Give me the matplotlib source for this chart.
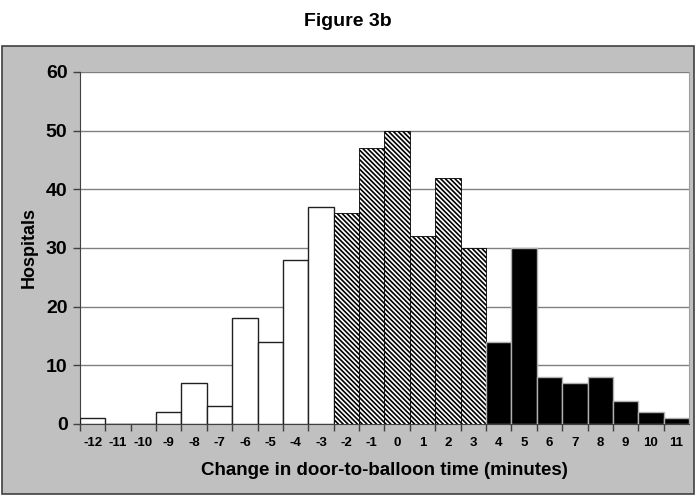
import matplotlib
matplotlib.use("Agg")
import matplotlib.pyplot as plt
from matplotlib.patches import Rectangle

minutes = list(range(-12, 12))
hospitals = [1, 0, 0, 2, 7, 3, 18, 14, 28, 37,
             36, 47, 50, 32, 42, 30,
             14, 30, 8, 7, 8, 4, 2, 1]

plt.rcParams["font.family"] = ["Liberation Sans Narrow", "Liberation Sans", "DejaVu Sans"]
plt.rcParams["font.weight"] = "bold"
plt.rcParams["hatch.linewidth"] = 1.2

fig = plt.figure(figsize=(6.97, 4.96), dpi=100)
fig.patch.set_facecolor("white")

# gray panel behind the chart
fig.patches.append(Rectangle((2 / 697, 2 / 496), 692 / 697, 448 / 496,
                             transform=fig.transFigure, facecolor="#c0c0c0",
                             edgecolor="#404040", linewidth=1.2, zorder=-10))

fig.text(348 / 697, 1 - 21 / 496, "Figure 3b", ha="center", va="center",
         fontsize=14, fontweight="bold")

ax = fig.add_axes([80 / 697, 72 / 496, 609 / 697, 352 / 496])
ax.set_facecolor("white")

for m, h in zip(minutes, hospitals):
    if m <= -3:
        ax.bar(m, h, width=1.0, color="white", edgecolor="#202020", linewidth=1, zorder=3)
    elif m <= 3:
        ax.bar(m, h, width=1.0, color="white", edgecolor="black", hatch="\\" * 7,
               linewidth=0.6, zorder=3)
    else:
        ax.bar(m, h, width=1.0, color="black", edgecolor="#b0b0b0", linewidth=1, zorder=3)

ax.set_xlim(-12.5, 11.5)
ax.set_ylim(0, 60)
ax.set_yticks(range(0, 61, 10))
ax.yaxis.grid(True, color="#808080", linewidth=1, zorder=0)
ax.set_axisbelow(True)

ax.set_xticks(minutes)
ax.set_xticklabels([str(m) for m in minutes], fontsize=9.5, fontweight="bold")
ax.set_xticks([m + 0.5 for m in minutes[:-1]] + [-12.5], minor=True)
ax.tick_params(axis="x", which="major", length=0, pad=9)
ax.tick_params(axis="x", which="minor", length=5, color="#404040", width=1)
ax.tick_params(axis="y", length=5, color="#404040", width=1, labelsize=14, pad=4)

for lab in ax.get_yticklabels():
    lab.set_fontweight("bold")

ax.spines["top"].set_visible(False)
ax.spines["right"].set_color("#a0a0a0")
ax.spines["left"].set_color("#404040")
ax.spines["bottom"].set_color("#404040")

ax.set_ylabel("Hospitals", fontsize=13, fontweight="bold", labelpad=6)
ax.set_xlabel("Change in door-to-balloon time (minutes)", fontsize=13.5,
              fontweight="bold", labelpad=10)

fig.savefig("out.png", dpi=100)
